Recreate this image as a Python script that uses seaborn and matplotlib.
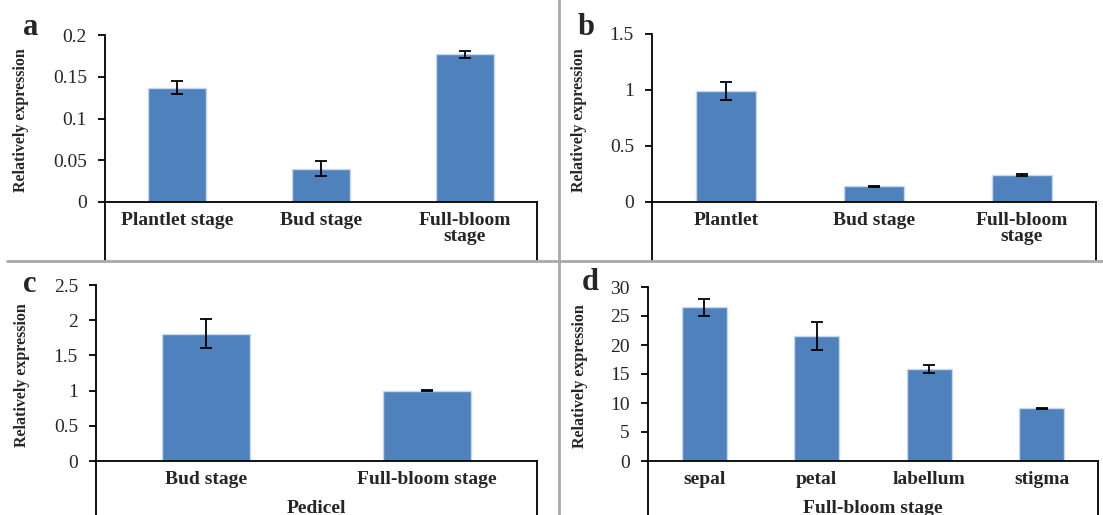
import numpy as np
import matplotlib
matplotlib.use("Agg")
import matplotlib.pyplot as plt
from matplotlib.lines import Line2D
from matplotlib.ticker import FuncFormatter
import seaborn as sns

# panel a
cats_a = ["Plantlet stage", "Bud stage", "Full-bloom\nstage"]
vals_a = [0.137, 0.040, 0.177]
errs_a = [0.008, 0.009, 0.004]
ticks_a = [0, 0.05, 0.1, 0.15, 0.2]

# panel b
cats_b = ["Plantlet", "Bud stage", "Full-bloom\nstage"]
vals_b = [0.99, 0.14, 0.24]
errs_b = [0.08, 0.005, 0.01]
ticks_b = [0, 0.5, 1, 1.5]

# panel c
cats_c = ["Bud stage", "Full-bloom stage"]
vals_c = [1.81, 1.00]
errs_c = [0.20, 0.01]
ticks_c = [0, 0.5, 1, 1.5, 2, 2.5]

# panel d
cats_d = ["sepal", "petal", "labellum", "stigma"]
vals_d = [26.5, 21.6, 15.9, 9.1]
errs_d = [1.5, 2.4, 0.7, 0.1]
ticks_d = [0, 5, 10, 15, 20, 25, 30]

sns.set_style("white")
plt.rcParams['font.family'] = ['Liberation Serif', 'DejaVu Serif']

W, H = 1103, 515
fig = plt.figure(figsize=(W / 100, H / 100), dpi=100)

BAR = '#4F81BD'
EDGE = '#C9D8EC'


def px_axes(left, right, top, bottom):
    return fig.add_axes([left / W, 1 - bottom / H, (right - left) / W, (bottom - top) / H])


def panel(ax, cats, vals, errs, ticks, box_bottom, ylab_x, xlabel=None):
    sns.barplot(x=cats, y=vals, color=BAR, saturation=1, width=0.4,
                edgecolor=EDGE, linewidth=1, errorbar=None, ax=ax)
    ax.errorbar(np.arange(len(cats)), vals, yerr=errs, fmt='none', ecolor='black',
                elinewidth=1.3, capsize=4, capthick=1.3, zorder=5)
    ax.set_ylim(ticks[0], ticks[-1])
    ax.set_yticks(ticks)
    ax.yaxis.set_major_formatter(FuncFormatter(lambda v, p: f"{v:g}"))
    ax.set_xlim(-0.5, len(cats) - 0.5)
    for s in ['top', 'right']:
        ax.spines[s].set_visible(False)
    for s in ['left', 'bottom']:
        ax.spines[s].set_color('black')
        ax.spines[s].set_linewidth(1.3)
    ax.tick_params(axis='y', direction='out', length=5, width=1.3, color='black',
                   left=True, pad=8, labelsize=14)
    ax.tick_params(axis='x', length=0, pad=7, labelsize=14)
    for t in ax.get_xticklabels():
        t.set_fontweight('bold')
        t.set_linespacing(0.95)
    ax.set_ylabel("Relatively expression", fontsize=11.5, fontweight='bold')
    ax.yaxis.set_label_coords(ylab_x, 0.49)
    if xlabel:
        ax.set_xlabel(xlabel, fontsize=14, fontweight='bold', labelpad=9)
    else:
        ax.set_xlabel("")
    # category table box below the axis
    for xx in (0, 1):
        ax.add_line(Line2D([xx, xx], [0, box_bottom], transform=ax.transAxes,
                           color='black', lw=1.3, clip_on=False))
    return ax


ax_a = px_axes(105, 537, 35, 202)
panel(ax_a, cats_a, vals_a, errs_a, ticks_a, (202 - 261) / 167, -0.175)
ax_b = px_axes(652, 1096, 34, 202)
panel(ax_b, cats_b, vals_b, errs_b, ticks_b, (202 - 261) / 168, -0.147)
ax_c = px_axes(96, 537, 285, 461)
panel(ax_c, cats_c, vals_c, errs_c, ticks_c, (461 - 520) / 176, -0.15, "Pedicel")
ax_d = px_axes(648, 1098, 287, 461)
panel(ax_d, cats_d, vals_d, errs_d, ticks_d, (461 - 520) / 174, -0.134, "Full-bloom stage")

# panel letters
for lx, ly, lt in [(23, 35, "a"), (578, 35, "b"), (23, 292, "c"), (582, 290, "d")]:
    fig.text(lx / W, 1 - ly / H, lt, fontsize=22, fontweight='bold', va='baseline', ha='left')

# grey dividers between panels
fig.add_artist(Line2D([7 / W, 1], [1 - 261 / H, 1 - 261 / H], color='#A9A9A9', lw=2))
fig.add_artist(Line2D([559 / W, 559 / W], [0, 1], color='#A9A9A9', lw=2))

fig.savefig("out.png", dpi=100)
